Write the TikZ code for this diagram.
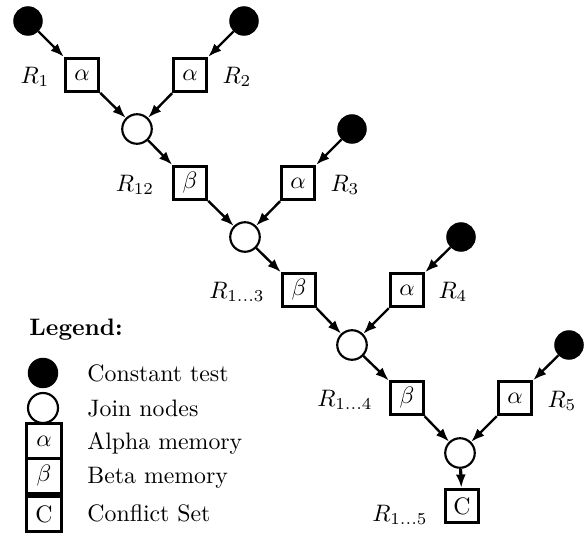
\documentclass[tikz,border=0pt]{standalone}
\usetikzlibrary{arrows.meta}
\begin{document}
\begin{tikzpicture}[x=0.42pt,y=-0.42pt,
  const/.style={circle,fill=black,draw=black,line width=0.6pt,minimum size=11.8pt,inner sep=0pt},
  joinnode/.style={circle,draw=black,line width=0.9pt,fill=white,minimum size=12.4pt,inner sep=0pt},
  mem/.style={rectangle,draw=black,line width=1.3pt,minimum size=14pt,inner sep=0pt},
  lmem/.style={mem,minimum size=14.6pt},
  arr/.style={-{Latex[length=5.6pt,width=4.2pt]},line width=1pt},
  lab/.style={inner sep=0pt},
  ltext/.style={anchor=west,inner sep=0pt}]
\useasboundingbox (0,0) rectangle (584,533);
% level 1
\node[const] (c1) at (28,21) {};
\node[const] (c2) at (244,21) {};
\node[mem] (a1) at (82,75) {$\alpha$};
\node[mem] (a2) at (190,75) {$\alpha$};
\node[joinnode] (j1) at (137,129) {};
% level 2
\node[mem] (b2) at (190,183) {$\beta$};
\node[mem] (a3) at (298,183) {$\alpha$};
\node[const] (c3) at (352,129) {};
\node[joinnode] (j2) at (245,237) {};
% level 3
\node[mem] (b3) at (299,290) {$\beta$};
\node[mem] (a4) at (407,290) {$\alpha$};
\node[const] (c4) at (461,237) {};
\node[joinnode] (j3) at (352,345) {};
% level 4
\node[mem] (b4) at (407,398) {$\beta$};
\node[mem] (a5) at (515,398) {$\alpha$};
\node[const] (c5) at (569,345) {};
\node[joinnode] (j4) at (460,453) {};
\node[mem] (cs) at (462,506) {C};
% connectors
\draw[arr] (c1) -- (a1);
\draw[arr] (c2) -- (a2);
\draw[arr] (a1) -- (j1);
\draw[arr] (a2) -- (j1);
\draw[arr] (j1) -- (b2);
\draw[arr] (c3) -- (a3);
\draw[arr] (b2) -- (j2);
\draw[arr] (a3) -- (j2);
\draw[arr] (j2) -- (b3);
\draw[arr] (c4) -- (a4);
\draw[arr] (b3) -- (j3);
\draw[arr] (a4) -- (j3);
\draw[arr] (j3) -- (b4);
\draw[arr] (c5) -- (a5);
\draw[arr] (b4) -- (j4);
\draw[arr] (a5) -- (j4);
\draw[arr,line width=1.3pt] (j4) -- (cs);
% labels
\node[lab] (l1) at (35,77) {$R_1$};
\node[lab] (l2) at (237,77) {$R_2$};
\node[lab] (l12) at (135,185) {$R_{12}$};
\node[lab] (l3) at (345,185) {$R_3$};
\node[lab] (l13) at (237,292) {$R_{1\ldots3}$};
\node[lab] (l4) at (453,292) {$R_4$};
\node[lab] (l14) at (345,400) {$R_{1\ldots4}$};
\node[lab] (l5) at (562,401) {$R_5$};
\node[lab] (l15) at (400,515) {$R_{1\ldots5}$};
% legend
\node[ltext] (lg) at (29,330) {\textbf{Legend:}};
\node[const,minimum size=12.2pt] (lc) at (43,373) {};
\node[joinnode,minimum size=12.6pt] (lj) at (43,408) {};
\node[lmem] (la) at (44,441) {$\alpha$};
\node[lmem] (lb) at (44,476) {$\beta$};
\node[lmem] (lcs) at (44,514) {C};
\node[ltext] (t1) at (87,373) {Constant test};
\node[ltext] (t2) at (87,408) {Join nodes};
\node[ltext] (t3) at (87,443) {Alpha memory};
\node[ltext] (t4) at (87,478) {Beta memory};
\node[ltext] (t5) at (87,513) {Conflict Set};
\end{tikzpicture}
\end{document}
